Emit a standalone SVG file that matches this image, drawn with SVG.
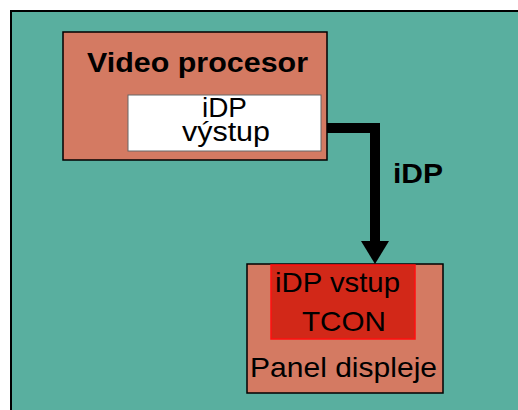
<svg xmlns="http://www.w3.org/2000/svg" width="518" height="410" viewBox="0 0 518 410">
<defs>
<style>
.t{font-family:"Liberation Sans",Arial,sans-serif;font-size:28px;fill:#000}
.s{font-size:27px}
.b{font-weight:bold}
.box{fill:#D47A62;stroke:#000;stroke-width:1.5}
</style>
</defs>
<rect x="0" y="0" width="518" height="410" fill="#fff"/>
<rect x="11" y="11" width="520" height="420" fill="#59AF9F" stroke="#000" stroke-width="2"/>
<g id="connectors">
<path d="M327,128 H375 V242" fill="none" stroke="#000" stroke-width="10"/>
<path d="M361,241 L389,241 L375,264 Z" fill="#000"/>
<text class="t b" x="393" y="183" textLength="50" lengthAdjust="spacingAndGlyphs">iDP</text>
</g>
<g id="video-procesor">
<rect class="box" x="63" y="32" width="264" height="128"/>
<text class="t b" x="87" y="72" textLength="221" lengthAdjust="spacingAndGlyphs">Video procesor</text>
</g>
<g id="idp-vystup">
<rect x="128" y="95" width="193" height="56" fill="#fff" stroke="#666" stroke-width="1"/>
<text class="t s" x="202" y="117" textLength="45" lengthAdjust="spacingAndGlyphs">iDP</text>
<text class="t s" x="182" y="141" textLength="88" lengthAdjust="spacingAndGlyphs">výstup</text>
</g>
<g id="panel-displeje">
<rect class="box" x="247" y="264" width="196" height="129"/>
<text class="t" x="250" y="377" textLength="187" lengthAdjust="spacingAndGlyphs">Panel displeje</text>
</g>
<g id="tcon">
<rect x="271" y="265" width="144" height="74" fill="#D22818" stroke="#FF1010" stroke-width="1.5"/>
<text class="t" x="275" y="292" textLength="125" lengthAdjust="spacingAndGlyphs">iDP vstup</text>
<text class="t" x="302" y="331" textLength="84" lengthAdjust="spacingAndGlyphs">TCON</text>
</g>
</svg>
